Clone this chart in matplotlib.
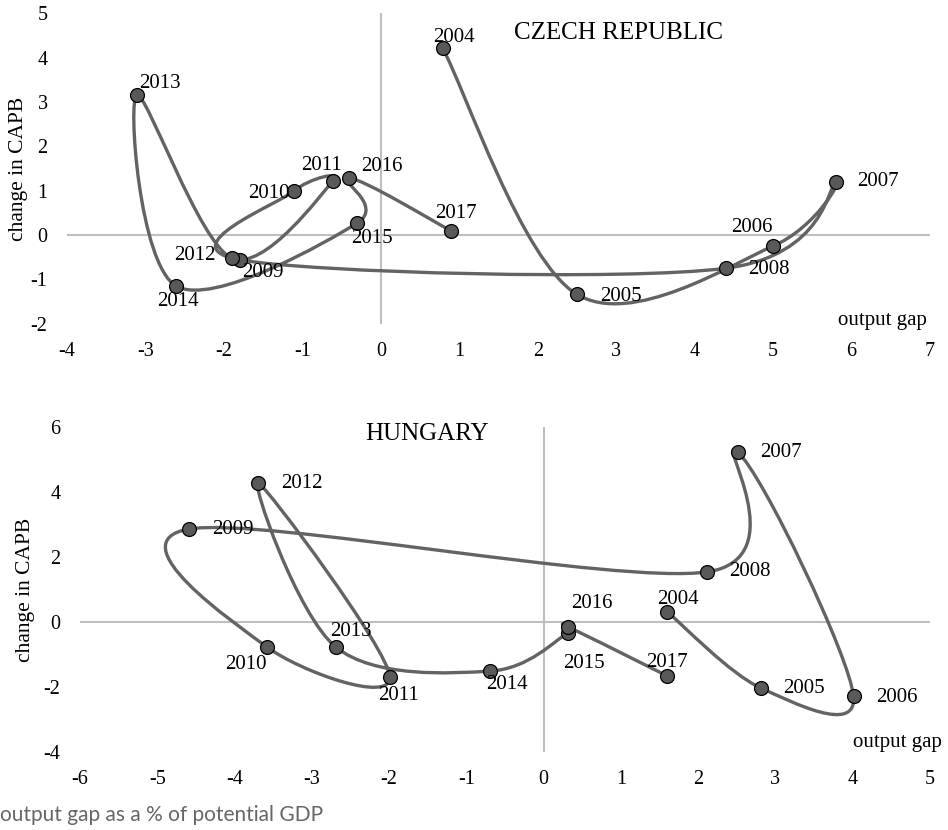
import numpy as np
import matplotlib
matplotlib.use("Agg")
import matplotlib.pyplot as plt
from matplotlib.path import Path
from matplotlib.patches import PathPatch

plt.rcParams["axes.unicode_minus"] = False

# change in cyclically adjusted primary balance vs output gap, 2004-2017
years = [2004, 2005, 2006, 2007, 2008, 2009, 2010, 2011, 2012, 2013, 2014, 2015, 2016, 2017]

cz_gap = [0.79, 2.50, 5.00, 5.80, 4.40, -1.80, -1.11, -0.61, -1.90, -3.11, -2.61, -0.30, -0.41, 0.89]
cz_capb = [4.21, -1.34, -0.25, 1.20, -0.75, -0.56, 0.99, 1.22, -0.52, 3.16, -1.15, 0.27, 1.29, 0.10]

hu_gap = [1.60, 2.81, 4.01, 2.51, 2.11, -4.59, -3.58, -1.99, -3.69, -2.69, -0.69, 0.31, 0.31, 1.60]
hu_capb = [0.31, -2.03, -2.28, 5.23, 1.54, 2.86, -0.77, -1.69, 4.28, -0.77, -1.51, -0.34, -0.15, -1.66]

cz_xticks = [-4, -3, -2, -1, 0, 1, 2, 3, 4, 5, 6, 7]
cz_yticks = [-2, -1, 0, 1, 2, 3, 4, 5]
hu_xticks = [-6, -5, -4, -3, -2, -1, 0, 1, 2, 3, 4, 5]
hu_yticks = [-4, -2, 0, 2, 4, 6]

# label offsets in pixels (dx, dy up)
cz_offsets = [(11, 11), (44, -2), (-21, 19), (42, 0), (43, -1), (23, -13), (-25, -2),
              (-11, 15), (-37, 3), (23, 12), (2, -16), (15, -15), (33, 11), (5, 17)]
hu_offsets = [(11, 12), (43, -1), (43, -1), (43, 0), (43, 0), (44, 0), (-21, -17),
              (9, -19), (43, -1), (15, 16), (17, -13), (16, -30), (24, 23), (0, 13)]

SERIF = "Liberation Serif"
LINE = "#636363"
MARK = "#595959"
AXC = "#bfbfbf"


def smooth_path(xs, ys):
    # excel-like smoothed line: catmull-rom turned into cubic bezier pieces
    p = np.column_stack([xs, ys]).astype(float)
    n = len(p)
    verts = [p[0]]
    codes = [Path.MOVETO]
    for i in range(n - 1):
        p0 = p[i - 1] if i > 0 else p[i]
        p3 = p[i + 2] if i + 2 < n else p[i + 1]
        c1 = p[i] + (p[i + 1] - p0) / 6.0
        c2 = p[i + 1] - (p3 - p[i]) / 6.0
        verts += [c1, c2, p[i + 1]]
        codes += [Path.CURVE4] * 3
    return Path(verts, codes)


def draw_panel(ax, gx, gy, offsets, title, title_xy, xticks, yticks, ylabel_x, gap_xy):
    ax.set_xlim(xticks[0], xticks[-1])
    ax.set_ylim(yticks[0], yticks[-1])
    for s in ax.spines.values():
        s.set_visible(False)
    ax.axhline(0, color=AXC, lw=1.5, zorder=1)
    ax.axvline(0, color=AXC, lw=1.5, zorder=1)

    ax.add_patch(PathPatch(smooth_path(gx, gy), facecolor="none", edgecolor=LINE,
                           lw=2.4, zorder=2, capstyle="round", joinstyle="round"))
    ax.plot(gx, gy, "o", ms=10, mfc=MARK, mec="black", mew=0.9, zorder=3)

    for yr, x, y, off in zip(years, gx, gy, offsets):
        ax.annotate(str(yr), (x, y), xytext=off, textcoords="offset pixels",
                    ha="center", va="center", fontsize=15, family=SERIF, zorder=4)

    ax.set_xticks(xticks)
    ax.set_yticks(yticks)
    ax.tick_params(length=0, labelsize=14.5)
    ax.tick_params(axis="y", pad=14)
    ax.tick_params(axis="x", pad=13)
    for lab in ax.get_xticklabels() + ax.get_yticklabels():
        lab.set_family(SERIF)

    ax.text(title_xy[0], title_xy[1], title, transform=ax.transAxes, ha="center",
            va="center", fontsize=18, family=SERIF)
    ax.text(gap_xy[0], gap_xy[1], "output gap", transform=ax.transAxes, ha="right",
            va="center", fontsize=15, family=SERIF, clip_on=False)
    ax.set_ylabel("change in CAPB", fontsize=15.5, family=SERIF)
    ax.yaxis.set_label_coords(ylabel_x, 0.5)


W, H = 948, 830
fig = plt.figure(figsize=(W / 100, H / 100), dpi=100)

# top panel: czech republic, plot area 67..930 px wide, 13.5..323.6 px high
t_l, t_r, t_t, t_b = 67, 930, 13.5, 323.6
ax1 = fig.add_axes([t_l / W, 1 - t_b / H, (t_r - t_l) / W, (t_b - t_t) / H])
draw_panel(ax1, cz_gap, cz_capb, cz_offsets, "CZECH REPUBLIC",
           ((619 - t_l) / (t_r - t_l), 1 - (33 - t_t) / (t_b - t_t)),
           cz_xticks, cz_yticks, (28 - t_l) / (t_r - t_l),
           ((927 - t_l) / (t_r - t_l), 1 - (321 - t_t) / (t_b - t_t)))

# bottom panel: hungary
b_l, b_r, b_t, b_b = 80, 930, 427, 752
ax2 = fig.add_axes([b_l / W, 1 - b_b / H, (b_r - b_l) / W, (b_b - b_t) / H])
draw_panel(ax2, hu_gap, hu_capb, hu_offsets, "HUNGARY",
           ((427 - b_l) / (b_r - b_l), 1 - (434 - b_t) / (b_b - b_t)),
           hu_xticks, hu_yticks, (35 - b_l) / (b_r - b_l),
           ((942 - b_l) / (b_r - b_l), 1 - (742 - b_t) / (b_b - b_t)))

fig.text(0.0, 1 - 815 / H, "output gap as a % of potential GDP", ha="left", va="center",
         fontsize=15, family="Lato", color="#666666")

fig.savefig("out.png", dpi=100)
